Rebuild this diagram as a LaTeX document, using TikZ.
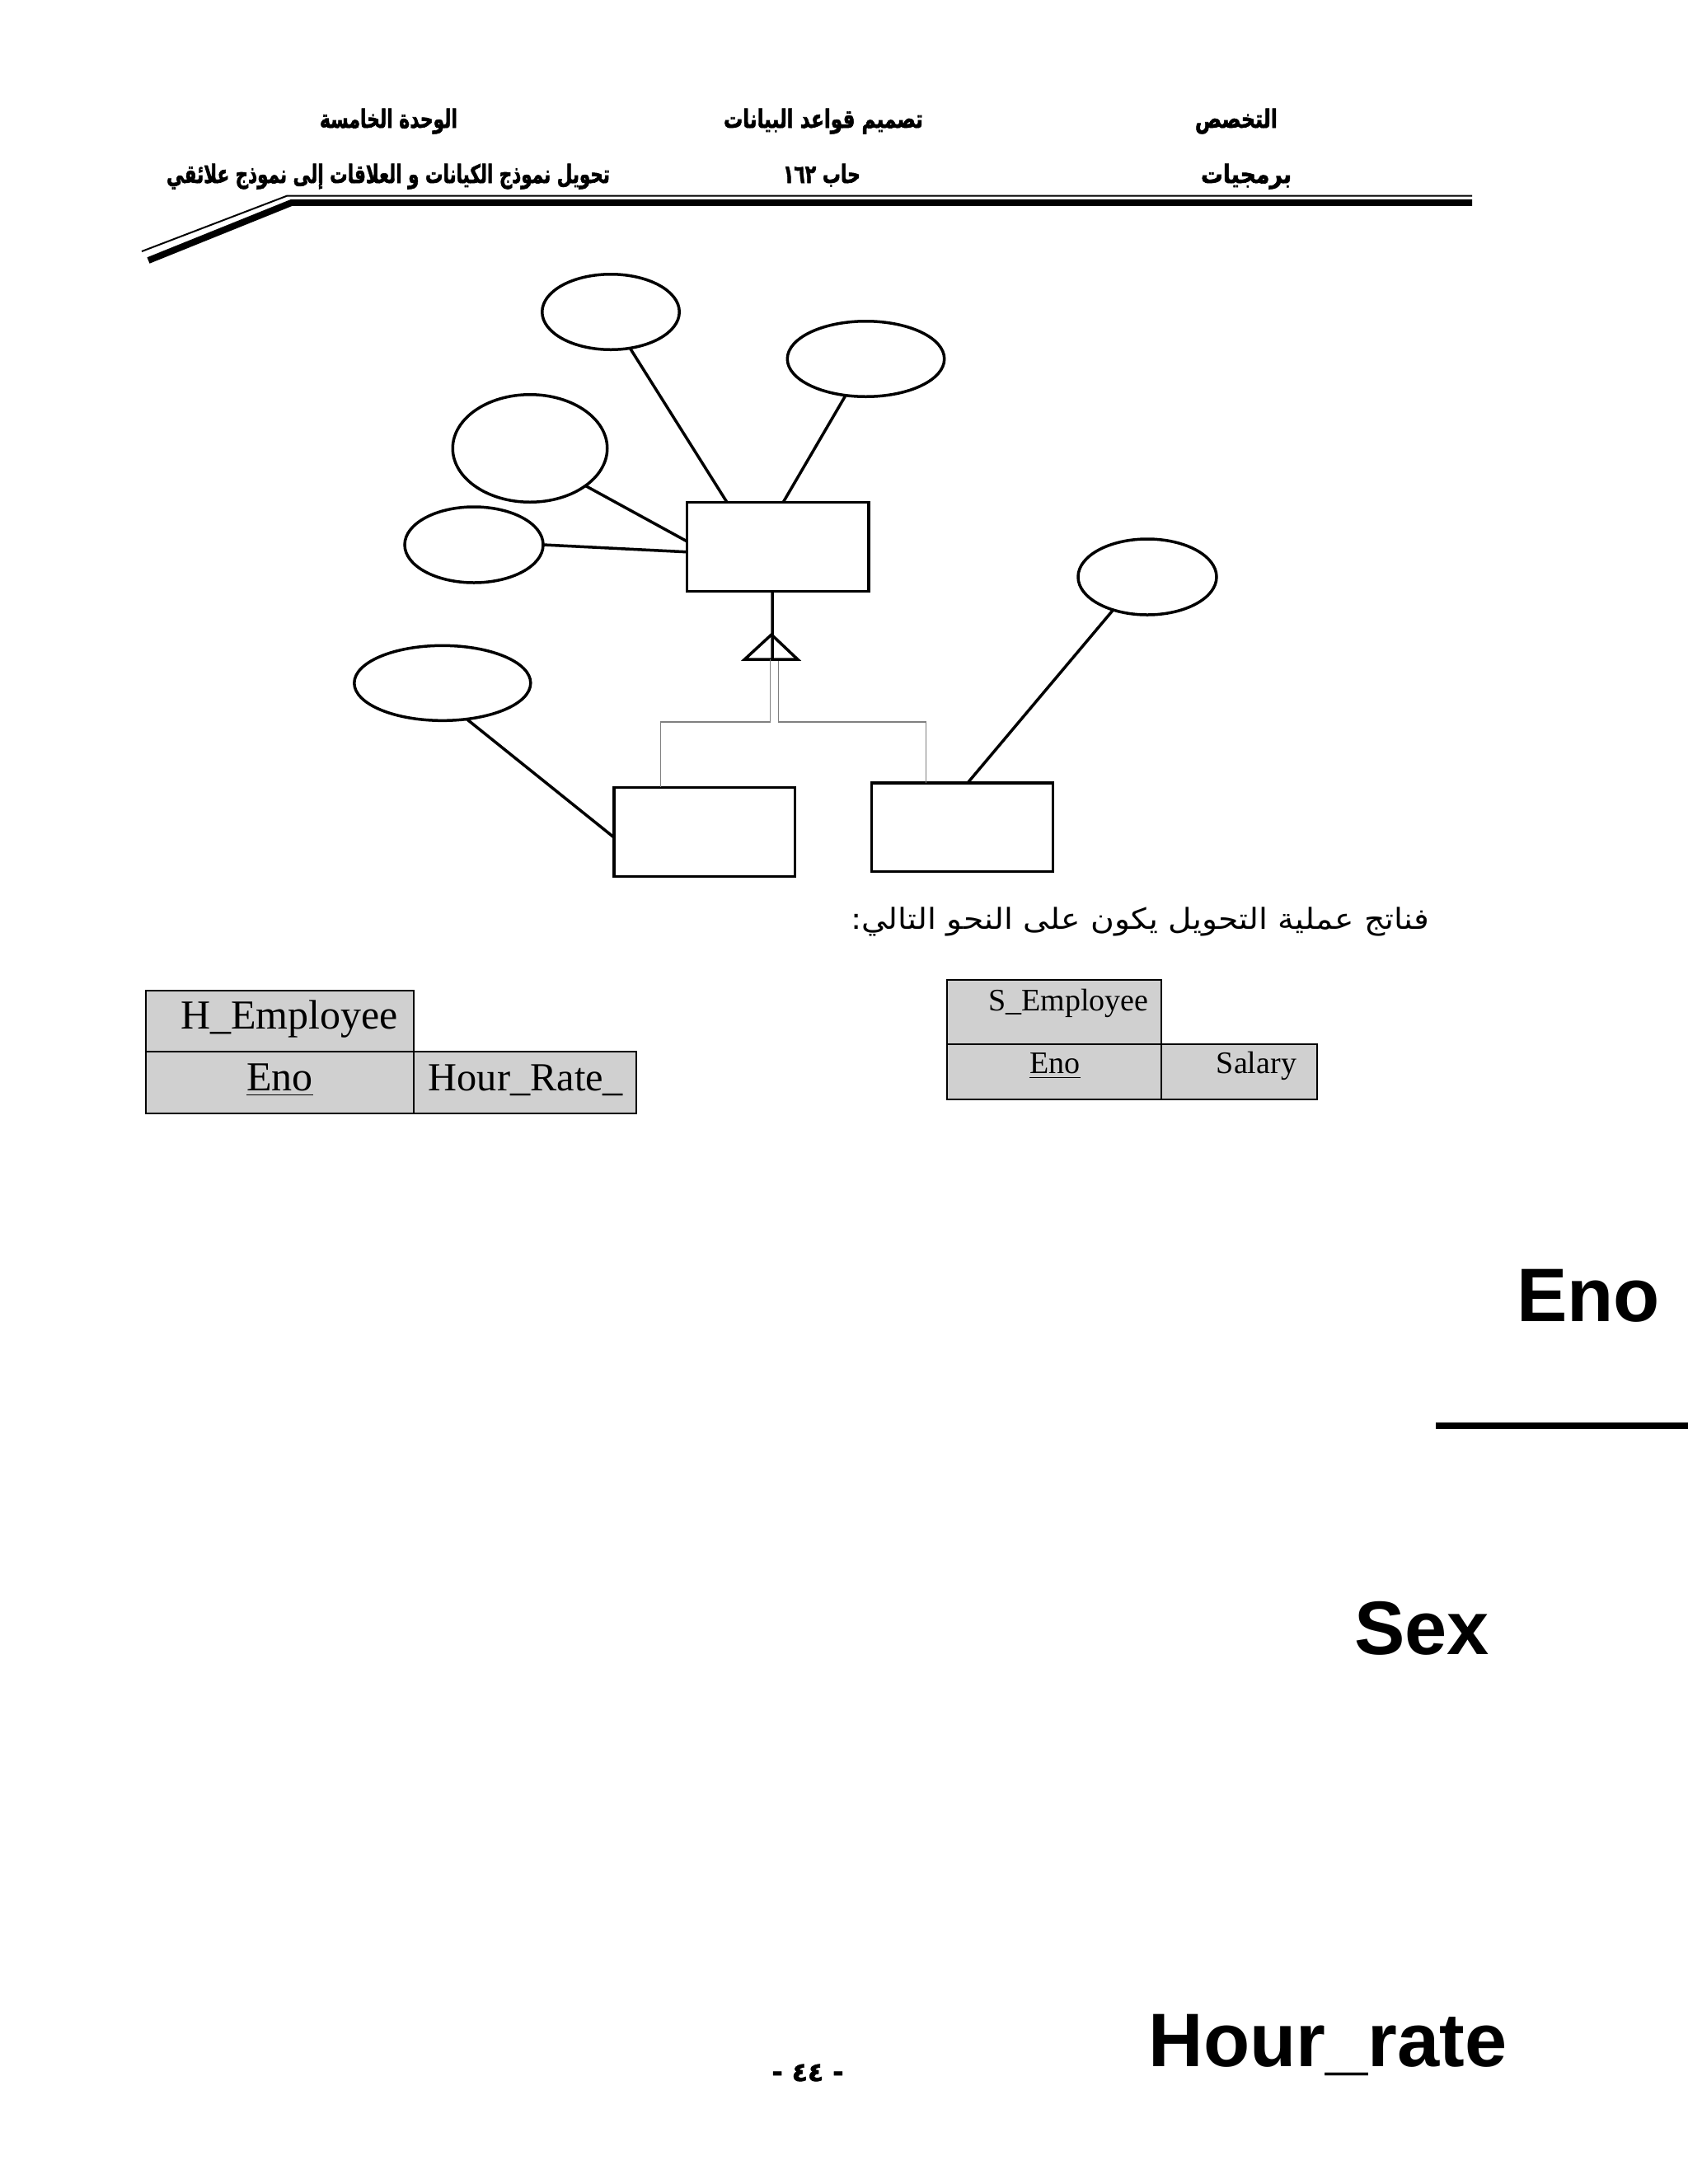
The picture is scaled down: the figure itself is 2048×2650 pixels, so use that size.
\documentclass[tikz,border=0pt]{standalone}
\usepackage{fontspec}
\usepackage{graphicx}
\setmainfont{Liberation Serif}
\newfontfamily\arabicfont[Script=Arabic]{DejaVu Sans}
\newfontfamily\arabichead[Script=Arabic,BoldFeatures={FakeBold=2}]{DejaVu Sans}
\newfontfamily\bigsans{Liberation Sans}
\TeXXeTstate=1
\usetikzlibrary{shapes.geometric,calc}
\definecolor{cellgray}{RGB}{208,208,208}
\begin{document}
\begin{tikzpicture}[x=0.3pt,y=-0.3pt,
  attr/.style={ellipse,draw,line width=1.05pt,inner sep=0pt,outer sep=0pt},
  ent/.style={rectangle,draw,line width=1.05pt,inner sep=0pt,outer sep=0pt},
  erline/.style={line width=1.05pt},
  isaline/.style={draw=gray,line width=0.45pt},
  hdr/.style={inner sep=0pt,anchor=base},
  cell/.style={fill=cellgray,draw=black,line width=0.6pt},
  txt/.style={inner sep=0pt,anchor=base},
  bigtxt/.style={inner sep=0pt,anchor=base,font=\bigsans\bfseries\fontsize{27.6}{30}\selectfont}]
\fill[white] (0,0) rectangle (2048,2650);
\useasboundingbox (0,0) rectangle (2048,2650);

% ---------- header ----------
\node[hdr] (h1) at (471.5,155) {\resizebox{50.1pt}{7pt}{\arabichead\bfseries\beginR الوحدة الخامسة\endR}};
\node[hdr] (h2) at (999,155) {\resizebox{72.6pt}{7pt}{\arabichead\bfseries\beginR تصميم قواعد البيانات\endR}};
\node[hdr] (h3) at (1500,155) {\resizebox{30pt}{7pt}{\arabichead\bfseries\beginR التخصص\endR}};
\node[hdr] (h4) at (471,222) {\resizebox{161.4pt}{7pt}{\arabichead\bfseries\beginR تحويل نموذج الكيانات و العلاقات إلى نموذج علائقي\endR}};
\node[hdr] (h5) at (997,222) {\resizebox{28.2pt}{7pt}{\arabichead\bfseries\beginR حاب \beginL١٦٢\endL\endR}};
\node[hdr] (h6) at (1512,222) {\resizebox{33pt}{7pt}{\arabichead\bfseries\beginR برمجيات\endR}};
\draw[line width=0.6pt] (172,305) -- (348,237.7) -- (1786,237.7);
\draw[line width=2.4pt] (180,316) -- (354,245.8) -- (1786,245.8);

% ---------- ER diagram ----------
\node[attr,minimum width=49.95pt,minimum height=27.45pt] (e1) at (741,378.5) {};
\node[attr,minimum width=57.15pt,minimum height=27.45pt] (e2) at (1050.5,435.5) {};
\node[attr,minimum width=56.25pt,minimum height=39.15pt] (e3) at (643,544) {};
\node[attr,minimum width=50.4pt,minimum height=27.6pt] (e4) at (575,661) {};
\node[attr,minimum width=50.4pt,minimum height=27.6pt] (e5) at (1392,700) {};
\node[attr,minimum width=64.2pt,minimum height=27.3pt] (e6) at (536.8,828.8) {};

\node[ent,minimum width=66.2pt,minimum height=32.4pt] (main) at (943.7,663.25) {};
\node[ent,minimum width=65.8pt,minimum height=32.4pt] (bl) at (854.85,1009.25) {};
\node[ent,minimum width=66pt,minimum height=32.25pt] (br) at (1167.6,1003.5) {};

\draw[erline] (e1.-62.4) -- ($(main.north west)!0.22!(main.north east)$);
\draw[erline] (e2.-119.4) -- ($(main.north west)!0.53!(main.north east)$);
\draw[erline] (e3.-34.4) -- ($(main.north west)!0.44!(main.south west)$);
\draw[erline] (e4.0) -- ($(main.north west)!0.56!(main.south west)$);
\draw[erline] (e5.-136.6) -- ($(br.north west)!0.53!(br.north east)$);
\draw[erline] (e6.-56.8) -- ($(bl.north west)!0.565!(bl.south west)$);

% specialization triangle
\coordinate (apex) at (936,770);
\coordinate (tbl) at (903.5,800);
\coordinate (tbr) at (967.7,800);
\coordinate (tb) at (937,800);
\draw[erline,line join=miter] (apex) -- (tbl) -- (tbr) -- cycle;
\draw[erline] ($(main.south west)!0.47!(main.south east)$) -- (tb);
\coordinate (gl) at (934.6,800);
\coordinate (gr) at (944.4,802);
\draw[isaline] (gl) -- (934.6,876) -| ($(bl.north west)!0.257!(bl.north east)$);
\draw[isaline] (gr) -- (944.4,876) -| ($(br.north west)!0.30!(br.north east)$);

% ---------- sentence ----------
\node[hdr] (sent) at (1383,1127) {\resizebox{210.6pt}{8pt}{\arabicfont\beginR فناتج عملية التحويل يكون على النحو التالي:\endR}};

% ---------- H_Employee table ----------
\filldraw[cell] (177.4,1201.7) rectangle (501.5,1275.7);
\filldraw[cell] (177.4,1275.7) rectangle (501.5,1350.7);
\filldraw[cell] (501.5,1275.7) rectangle (772.3,1350.7);
\node[txt,font=\fontsize{15}{17}\selectfont] (hname) at (351,1248) {H\_Employee};
\node[txt,font=\fontsize{15}{17}\selectfont] (heno) at (339.5,1323) {\underline{Eno}};
\node[txt,font=\fontsize{14.5}{17}\selectfont] (hrate) at (638,1323) {Hour\_Rate\_};

% ---------- S_Employee table ----------
\filldraw[cell] (1149,1189) rectangle (1409,1267);
\filldraw[cell] (1149,1267) rectangle (1409,1334);
\filldraw[cell] (1409,1267) rectangle (1598,1334);
\node[txt,font=\fontsize{11.4}{13}\selectfont] (sname) at (1296.5,1226.7) {S\_Employee};
\node[txt,font=\fontsize{11.4}{13}\selectfont] (seno) at (1280,1302.7) {\underline{Eno}};
\node[txt,font=\fontsize{11.4}{13}\selectfont] (ssal) at (1524.5,1302.7) {Salary};

% ---------- big labels ----------
\node[bigtxt] (beno) at (1927,1603) {Eno};
\draw[line width=2.4pt] (1742,1730) -- (2048,1730);
\node[bigtxt] (bsex) at (1725,2007) {Sex};
\node[bigtxt] (bhr) at (1611,2507) {Hour\_rate};

% ---------- page number ----------
\node[txt] (pnum) at (980,2525) {\arabichead\bfseries\fontsize{9.5}{11}\selectfont - ٤٤ -};
\end{tikzpicture}
\end{document}
